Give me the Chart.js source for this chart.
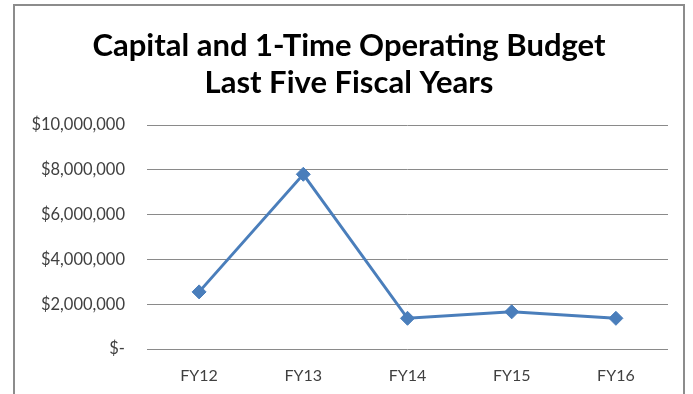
<!DOCTYPE html>
<html>
<head>
<meta charset="utf-8">
<script src="https://cdn.jsdelivr.net/npm/chart.js@4"></script>
<style>
  html, body { margin: 0; padding: 0; background: #fff; }
  #wrap { width: 693px; height: 394px; position: relative; }
</style>
</head>
<body>
<div id="wrap"><canvas id="budgetChart" width="693" height="394"></canvas></div>
<script>
// Fiscal years and combined capital + one-time operating budget
const fiscalYears = ["FY12", "FY13", "FY14", "FY15", "FY16"];
const budgetTotals = [2550000, 7800000, 1370000, 1660000, 1370000];
const titleLines = ["Capital and 1-Time Operating Budget", "Last Five Fiscal Years"];

const FONT = "Lato, 'Open Sans', sans-serif";

// white page, thin grey frame, and the two-line title centred on the frame
const framePlugin = {
  id: "frame",
  beforeDraw(chart) {
    const ctx = chart.ctx;
    ctx.save();
    ctx.fillStyle = "#ffffff";
    ctx.fillRect(0, 0, chart.width, chart.height);
    ctx.strokeStyle = "#8c8c8c";
    ctx.lineWidth = 2;
    ctx.strokeRect(14, 5, 670, 400);
    ctx.restore();
  },
  afterDraw(chart) {
    const ctx = chart.ctx;
    ctx.save();
    ctx.fillStyle = "#000000";
    ctx.font = "bold 31px " + FONT;
    ctx.textAlign = "center";
    ctx.textBaseline = "middle";
    titleLines.forEach((line, i) => ctx.fillText(line, 349, 46 + i * 37));
    ctx.restore();
  }
};

function money(v) {
  if (v === 0) return "$-";
  return "$" + v.toLocaleString("en-US");
}

new Chart("budgetChart", {
  type: "line",
  data: {
    labels: fiscalYears,
    datasets: [{
      data: budgetTotals,
      borderColor: "#4a7ebb",
      backgroundColor: "#4a7ebb",
      borderWidth: 3,
      pointStyle: "rectRot",
      pointRadius: 7,
      pointBorderWidth: 1,
      tension: 0
    }]
  },
  options: {
    responsive: false,
    animation: false,
    layout: { padding: { left: 0, right: 25, top: 125, bottom: 0 } },
    plugins: {
      legend: { display: false },
      tooltip: { enabled: false },
      title: { display: false }
    },
    scales: {
      x: {
        offset: true,
        afterFit: (s) => { s.height = 45; },
        grid: { display: false, drawTicks: false },
        border: { display: false },
        ticks: { color: "#404040", font: { family: FONT, size: 16 }, padding: 17 }
      },
      y: {
        min: 0,
        max: 10000000,
        afterFit: (s) => { s.width = 147; },
        grid: { color: "#8a8a8a", lineWidth: 1, drawTicks: false },
        border: { display: false },
        ticks: {
          stepSize: 2000000,
          color: "#404040",
          font: { family: FONT, size: 16.5 },
          padding: 22,
          callback: (v) => money(v)
        }
      }
    }
  },
  plugins: [framePlugin]
});
</script>
</body>
</html>
